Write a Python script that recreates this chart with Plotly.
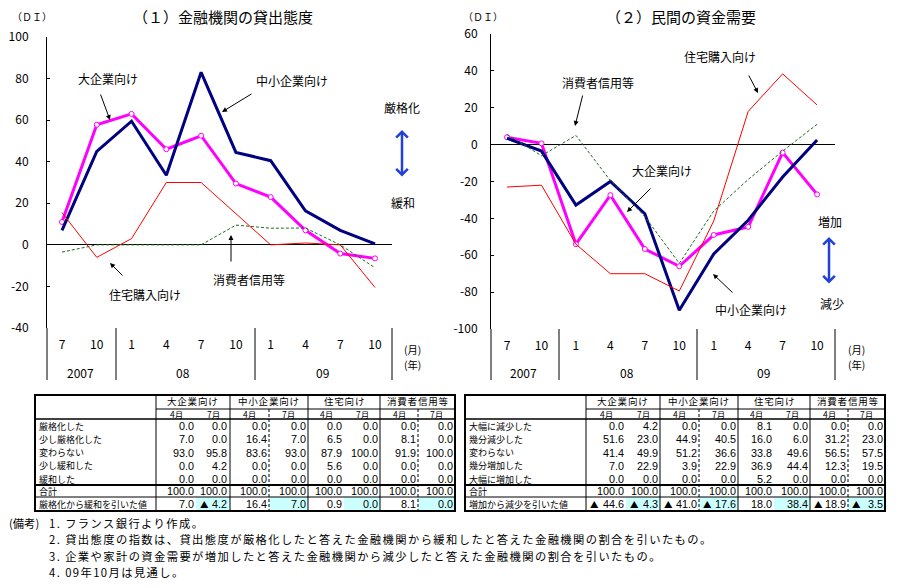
import plotly.graph_objects as go

W, H = 902, 588
FONT = "Noto Sans CJK JP, sans-serif"
NUMFONT = "Liberation Sans, Arial, sans-serif"

# ---------------- data ----------------
months = ["7", "10", "1", "4", "7", "10", "1", "4", "7", "10"]
years = ["2007", "08", "09"]
series_names = ["大企業向け", "中小企業向け", "住宅購入向け", "消費者信用等"]

# (1) lending attitude DI
lend_large = [11, 57.8, 63, 46, 52.5, 29.5, 23, 7.0, -4.2, -6.5]
lend_sme = [7, 45, 59.5, 33.5, 83, 44.5, 40.5, 16.4, 7.0, 0.5]
lend_housing = [15.5, -6, 3, 30, 30, 15, 0, 0.9, 0.0, -20.5]
lend_consumer = [-3.5, 0, 0, 0, 0, 9.5, 8, 8.1, 0.0, -11]
lend_ticks = [-40, -20, 0, 20, 40, 60, 80, 100]
lend_ticktext = ["-40", "-20", "0", "20", "40", "60", "80", "100"]

# (2) private funds demand DI
dem_large = [4, 0.7, -54, -27.4, -56.6, -66, -49, -44.6, -4.3, -27]
dem_sme = [3.5, -3.5, -32.8, -20, -37.5, -89.8, -59.3, -41.0, -17.6, 2.5]
dem_housing = [-23, -22, -54, -70, -70, -79.4, -41.4, 18.0, 38.4, 21.5]
dem_consumer = [5.5, -6, 5, -19.5, -39, -64.4, -36, -18.9, -3.5, 11]
dem_ticks = [-100, -80, -60, -40, -20, 0, 20, 40, 60]
dem_ticktext = ["-100", "-80", "-60", "-40", "-20", "0", "20", "40", "60"]

# tables
groups = ["大企業向け", "中小企業向け", "住宅向け", "消費者信用等"]
subcols = ["4月", "7月"]
lend_rows = ["厳格化した", "少し厳格化した", "変わらない", "少し緩和した", "緩和した", "合計", "厳格化から緩和を引いた値"]
dem_rows = ["大幅に減少した", "幾分減少した", "変わらない", "幾分増加した", "大幅に増加した", "合計", "増加から減少を引いた値"]
lend_table = [
    [0.0, 7.0, 93.0, 0.0, 0.0, 100.0, 7.0],
    [0.0, 0.0, 95.8, 4.2, 0.0, 100.0, -4.2],
    [0.0, 16.4, 83.6, 0.0, 0.0, 100.0, 16.4],
    [0.0, 7.0, 93.0, 0.0, 0.0, 100.0, 7.0],
    [0.0, 6.5, 87.9, 5.6, 0.0, 100.0, 0.9],
    [0.0, 0.0, 100.0, 0.0, 0.0, 100.0, 0.0],
    [0.0, 8.1, 91.9, 0.0, 0.0, 100.0, 8.1],
    [0.0, 0.0, 100.0, 0.0, 0.0, 100.0, 0.0],
]
dem_table = [
    [0.0, 51.6, 41.4, 7.0, 0.0, 100.0, -44.6],
    [4.2, 23.0, 49.9, 22.9, 0.0, 100.0, -4.3],
    [0.0, 44.9, 51.2, 3.9, 0.0, 100.0, -41.0],
    [0.0, 40.5, 36.6, 22.9, 0.0, 100.0, -17.6],
    [8.1, 16.0, 33.8, 36.9, 5.2, 100.0, 18.0],
    [0.0, 6.0, 49.6, 44.4, 0.0, 100.0, 38.4],
    [0.0, 31.2, 56.5, 12.3, 0.0, 100.0, -18.9],
    [0.0, 23.0, 57.5, 19.5, 0.0, 100.0, -3.5],
]
notes = [
    "1. フランス銀行より作成。",
    "2. 貸出態度の指数は、貸出態度が厳格化したと答えた金融機関から緩和したと答えた金融機関の割合を引いたもの。",
    "3. 企業や家計の資金需要が増加したと答えた金融機関から減少したと答えた金融機関の割合を引いたもの。",
    "4. 09年10月は見通し。",
]

# ---------------- helpers ----------------
shapes, ann = [], []


def X(x):
    return x / W


def Y(y):
    return 1 - y / H


def line(x0, y0, x1, y1, w=1, color="black", dash=None):
    ln = dict(color=color, width=w)
    if dash:
        ln["dash"] = dash
    shapes.append(dict(type="line", xref="paper", yref="paper",
                       x0=X(x0), y0=Y(y0), x1=X(x1), y1=Y(y1), line=ln))


def rect(x0, y0, x1, y1, fill=None, w=0, color="black"):
    d = dict(type="rect", xref="paper", yref="paper",
             x0=X(x0), y0=Y(y0), x1=X(x1), y1=Y(y1),
             line=dict(width=w, color=color))
    if fill:
        d["fillcolor"] = fill
    shapes.append(d)


def text(x, y, s, size=12, xa="center", ya="middle", color="black", family=FONT, pad=0):
    ann.append(dict(x=X(x), y=Y(y), xref="paper", yref="paper", text=s,
                    showarrow=False, xanchor=xa, yanchor=ya, borderpad=pad,
                    font=dict(family=family, size=size, color=color)))


def arrow(tx, ty, hx, hy, color="black", w=1, head=2, side="end", size=1):
    ann.append(dict(x=X(hx), y=Y(hy), xref="paper", yref="paper", text="",
                    showarrow=True, ax=tx - hx, ay=ty - hy, axref="pixel", ayref="pixel",
                    arrowhead=head, startarrowhead=head, arrowside=side,
                    arrowsize=size, startarrowsize=size,
                    arrowwidth=w, arrowcolor=color, standoff=0, startstandoff=0))


# ---------------- figure ----------------
fig = go.Figure()
xs = list(range(len(months)))


def add_series(large, sme, housing, consumer, xa, ya):
    fig.add_trace(go.Scatter(x=xs, y=large, mode="lines+markers", name=series_names[0],
                             line=dict(color="#FF00FF", width=3),
                             marker=dict(symbol="circle", size=5, color="white",
                                         line=dict(color="#FF00FF", width=1)),
                             xaxis=xa, yaxis=ya))
    fig.add_trace(go.Scatter(x=xs, y=sme, mode="lines", name=series_names[1],
                             line=dict(color="#000080", width=3), xaxis=xa, yaxis=ya))
    fig.add_trace(go.Scatter(x=xs, y=housing, mode="lines", name=series_names[2],
                             line=dict(color="#FF0000", width=1), xaxis=xa, yaxis=ya))
    fig.add_trace(go.Scatter(x=xs, y=consumer, mode="lines", name=series_names[3],
                             line=dict(color="#1E6B1E", width=1, dash="3px,2px"),
                             xaxis=xa, yaxis=ya))


add_series(lend_large, lend_sme, lend_housing, lend_consumer, "x", "y")
add_series(dem_large, dem_sme, dem_housing, dem_consumer, "x2", "y2")

tickfont = dict(family=FONT, size=12, color="black")
xcommon = dict(tickvals=xs, ticktext=months, showline=False, showgrid=False,
               zeroline=False, ticks="", tickfont=tickfont, ticklabelstandoff=8,
               automargin=False)
ycommon = dict(showline=True, linecolor="black", linewidth=1, showgrid=False,
               zeroline=True, zerolinecolor="black", zerolinewidth=1,
               ticks="inside", ticklen=3, tickcolor="black", tickfont=tickfont,
               automargin=False)

fig.update_layout(
    template="none",
    width=W, height=H, margin=dict(l=0, r=0, t=0, b=0, pad=0, autoexpand=False),
    paper_bgcolor="white", plot_bgcolor="white", showlegend=False,
    xaxis=dict(domain=[X(47), X(392)], range=[-0.431, 9.488], anchor="y", **xcommon),
    yaxis=dict(domain=[Y(328), Y(37)], range=[-40, 100], anchor="x",
               tickvals=lend_ticks, ticktext=lend_ticktext, ticklabelstandoff=15, **ycommon),
    xaxis2=dict(domain=[X(491), X(835)], range=[-0.465, 9.52], anchor="y2", **xcommon),
    yaxis2=dict(domain=[Y(329), Y(34)], range=[-100, 60], anchor="x2",
                tickvals=dem_ticks, ticktext=dem_ticktext, ticklabelstandoff=10, **ycommon),
)

# axis extensions and year separators
for xv in [47, 116, 255, 392]:
    line(xv, 328, xv, 380)
for xv in [491, 559, 697, 835]:
    line(xv, 329, xv, 380)

# year labels and unit labels
for xv, s in zip([80, 183, 322], years):
    text(xv, 372, s, 12)
for xv, s in zip([523, 627, 763], years):
    text(xv, 372, s, 12)
for xv in [412, 856]:
    text(xv, 349.5, "(月)", 10.3)
    text(xv, 364.5, "(年)", 10.3)

# titles
text(223, 17, "（１）金融機関の貸出態度", 15)
text(681, 17, "（２）民間の資金需要", 15)
text(32, 17, "（ＤＩ）", 10)
text(483, 17, "（ＤＩ）", 10)

# left chart labels
text(108, 78, "大企業向け", 12)
arrow(100, 93, 110, 120)
text(292, 80, "中小企業向け", 12)
arrow(253, 93, 222, 112)
text(145, 294, "住宅購入向け", 12)
arrow(124, 277, 110, 263)
text(249, 279, "消費者信用等", 12)
arrow(231, 263, 231, 235)
text(402, 107, "厳格化", 12)
text(403, 202, "緩和", 12)
arrow(402, 178, 402, 130, color="#2040D8", w=2.5, head=4, side="end+start", size=0.9)

# right chart labels
text(598, 82, "消費者信用等", 12)
arrow(583, 94, 575, 126)
text(720, 57, "住宅購入向け", 12)
arrow(748, 74, 758, 93)
text(662, 170, "大企業向け", 12)
arrow(652, 187, 627, 212)
text(751, 309, "中小企業向け", 12)
arrow(734, 294, 713, 274)
text(830, 222, "増加", 12)
text(832, 303, "減少", 12)
arrow(829, 285, 829, 237, color="#2040D8", w=2.5, head=4, side="end+start", size=0.9)


# ---------------- tables ----------------
def fmt(v):
    return f"{abs(v):.1f}"


def draw_table(L, R, b, rows, data):
    top, h1, h2, sep, tot, bot = 395, 409, 419, 485, 497, 511
    rh = (sep - h2) / 5
    # highlights
    for i in (1, 3, 5, 7):
        rect(b[i], tot, b[i + 1], bot, fill="#CCFFFF", w=0)
    # lines
    line(b[0], h1, R, h1, 1)
    line(L, h2, R, h2, 1.5)
    line(L, sep, R, sep, 2)
    line(L, tot, R, tot, 1)
    for i in (0, 2, 4, 6):
        line(b[i], top, b[i], bot, 1)
    for i in (3, 7):
        line(b[i], h1, b[i], bot, 1, dash="3px,2px")
    rect(L, top, R, bot, w=2)
    # headers
    for g in range(4):
        text((b[2 * g] + b[2 * g + 2]) / 2, 400.8,
             '<span style="letter-spacing:0.8px">' + groups[g] + '</span>', 9.5)
        for s in range(2):
            c = 2 * g + s
            text((b[c] + b[c + 1]) / 2, 413.6, subcols[s], 8.5)
    # rows
    ycent = [h2 + 0.6 + rh * (k + 0.5) for k in range(5)] + [(sep + tot) / 2 + 0.3, (tot + bot) / 2]
    for r, lab in enumerate(rows):
        text(L + 3, ycent[r], lab, 9, xa="left")
    for c in range(8):
        for r in range(7):
            v = data[c][r]
            text(b[c + 1] - 1.5, ycent[r], fmt(v), 10.8, xa="right", family=NUMFONT)
            if v < 0:
                text(b[c] + 8, ycent[r], "▲", 8.5)


draw_table(35, 455, [156, 196, 230, 269, 308, 344, 380, 418, 455], lend_rows, lend_table)
draw_table(465, 885, [586, 626, 660, 699, 738, 774, 810, 848, 885], dem_rows, dem_table)

# notes
text(8, 523, "(備考)", 11.3, xa="left")
for k, s in enumerate(notes):
    text(48, 523 + k * 16.4, '<span style="letter-spacing:1.4px">' + s + '</span>', 11.3, xa="left")

fig.update_layout(shapes=shapes, annotations=ann)
fig.write_html("out.html", config={"displayModeBar": False})
